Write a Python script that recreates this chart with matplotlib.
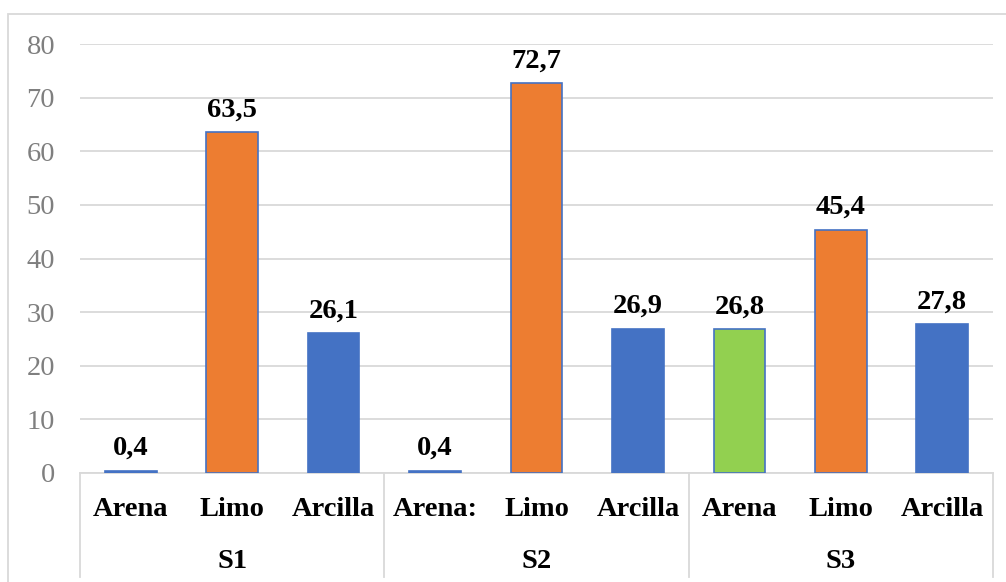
import matplotlib
matplotlib.use("Agg")
import matplotlib.pyplot as plt
from matplotlib.patches import Rectangle
import matplotlib.transforms as mtransforms

# Soil texture fractions (%) for three samples
groups = ["S1", "S2", "S3"]
sub_labels = ["Arena", "Limo", "Arcilla",
              "Arena:", "Limo", "Arcilla",
              "Arena", "Limo", "Arcilla"]
values = [0.4, 63.5, 26.1,
          0.4, 72.7, 26.9,
          26.8, 45.4, 27.8]
value_labels = ["0,4", "63,5", "26,1",
                "0,4", "72,7", "26,9",
                "26,8", "45,4", "27,8"]
bar_colors = ["#4472C4", "#ED7D31", "#4472C4",
              "#4472C4", "#ED7D31", "#4472C4",
              "#92D050", "#ED7D31", "#4472C4"]
y_ticks = [0, 10, 20, 30, 40, 50, 60, 70, 80]

plt.rcParams["font.family"] = ["Liberation Serif", "DejaVu Serif"]

W, H = 1006, 582
fig = plt.figure(figsize=(W / 100, H / 100), dpi=100)

# chart frame
fig.patches.append(Rectangle((8 / W, -0.05), 1.2, 1 - 14 / H + 0.05,
                             transform=fig.transFigure, fill=False,
                             edgecolor="#D9D9D9", linewidth=1.3, zorder=0))

ax = fig.add_axes([80 / W, 1 - 473 / H, (993 - 80) / W, (473 - 44) / H])

x = list(range(len(values)))
ax.bar(x, values, width=0.51, color=bar_colors, edgecolor="#4472C4",
       linewidth=1.2, zorder=3)

for xi, v, lab in zip(x, values, value_labels):
    ax.annotate(lab, (xi, v), xytext=(0, 7), textcoords="offset points",
                ha="center", va="bottom", fontsize=20.5, fontweight="bold",
                color="black")

ax.set_xlim(-0.5, len(values) - 0.5)
ax.set_ylim(0, 80)
ax.set_yticks(y_ticks)
ax.set_yticklabels([str(t) for t in y_ticks], fontsize=20.5, color="#7F7F7F")
ax.tick_params(axis="y", length=0, pad=18)
ax.set_xticks([])
ax.yaxis.grid(True, color="#D9D9D9", linewidth=1.3, zorder=0)
for s in ax.spines.values():
    s.set_visible(False)

# category axis: baseline, separators and two-level labels
trans = mtransforms.blended_transform_factory(ax.transData, ax.transAxes)
ax.plot([-0.5, len(values) - 0.5], [0, 0], transform=trans,
        color="#D9D9D9", linewidth=1.3, clip_on=False, zorder=2)
sep_bottom = -(577 - 473) / (473 - 44)
for b in [-0.5, 2.5, 5.5, 8.5]:
    ax.plot([b, b], [0, sep_bottom], transform=trans, color="#D9D9D9",
            linewidth=1.3, clip_on=False)

sub_y = -(510 - 473) / (473 - 44)
grp_y = -(562 - 473) / (473 - 44)
for xi, lab in zip(x, sub_labels):
    ax.text(xi, sub_y, lab, transform=trans, ha="center", va="center",
            fontsize=20.5, fontweight="bold")
for gi, g in enumerate(groups):
    ax.text(gi * 3 + 1, grp_y, g, transform=trans, ha="center",
            va="center", fontsize=20.5, fontweight="bold")

fig.savefig("out.png", dpi=100)
